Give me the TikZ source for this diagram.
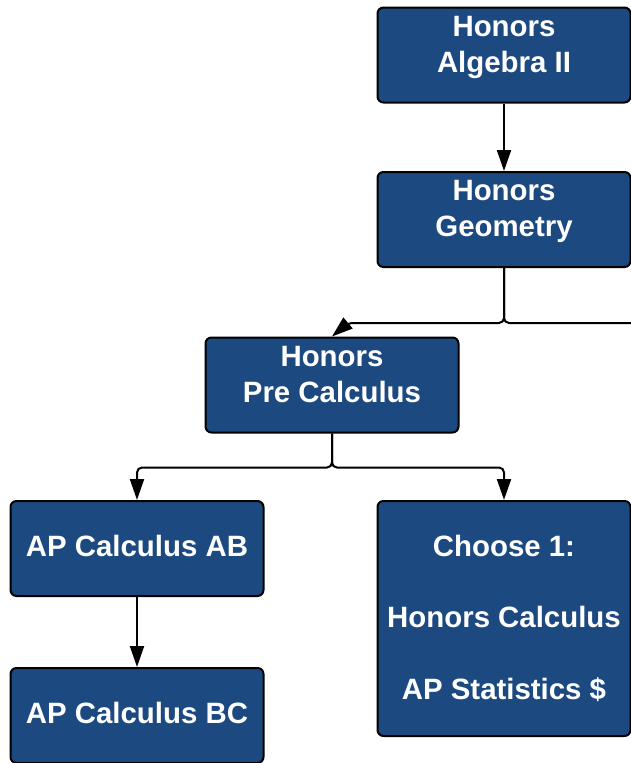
\documentclass[tikz,border=0pt]{standalone}
\usepackage{fontspec}
\setmainfont{Liberation Sans}
\usetikzlibrary{arrows.meta}
\definecolor{boxblue}{RGB}{27,73,128}
\begin{document}
\begin{tikzpicture}[x=1pt,y=-1pt,
  box/.style={draw=black, line width=2pt, fill=boxblue, rounded corners=6pt,
    minimum width=253pt, minimum height=95pt, inner sep=0pt},
  boxtext/.style={anchor=north, inner sep=0pt, text=white, align=center,
    font=\bfseries\fontsize{29.4}{35.5}\selectfont},
  link/.style={draw, line width=2pt, rounded corners=5pt,
    -{Triangle[width=14pt,length=21pt]}}]
\useasboundingbox (0,0) rectangle (631,763);
\node[box] (alg) at (504,55) {};
\node[box] (geo) at (504,219.5) {};
\node[box] (pre) at (332,385) {};
\node[box] (ab) at (137,548.5) {};
\node[box] (bc) at (137,715.5) {};
\node[box, minimum height=235pt] (chs) at (504,618.5) {};
\node[boxtext] (algt) at (504,16.5) {Honors\\Algebra II};
\node[boxtext] (geot) at (504,180.5) {Honors\\Geometry};
\node[boxtext] (pret) at (332,346.5) {Honors\\Pre Calculus};
\node[boxtext] (abt) at (137,534.5) {AP Calculus AB};
\node[boxtext] (bct) at (137,701.5) {AP Calculus BC};
\node[boxtext] (chst) at (504,534.5) {Choose 1:\\[36pt]Honors Calculus\\[36pt]AP Statistics \$};
\coordinate (bend) at (348,323);
\coordinate (out) at (633,323);
\path[link] (alg) -- (geo);
\path[link] (geo.south) |- (bend) -- (pre.north);
\path[draw, line width=2pt, rounded corners=5pt] (geo.south) |- (out);
\path[link] (pre.south) -- ++(0,34) -| (ab.north);
\path[link] (pre.south) -- ++(0,34) -| (chs.north);
\path[link] (ab) -- (bc);
\end{tikzpicture}
\end{document}
